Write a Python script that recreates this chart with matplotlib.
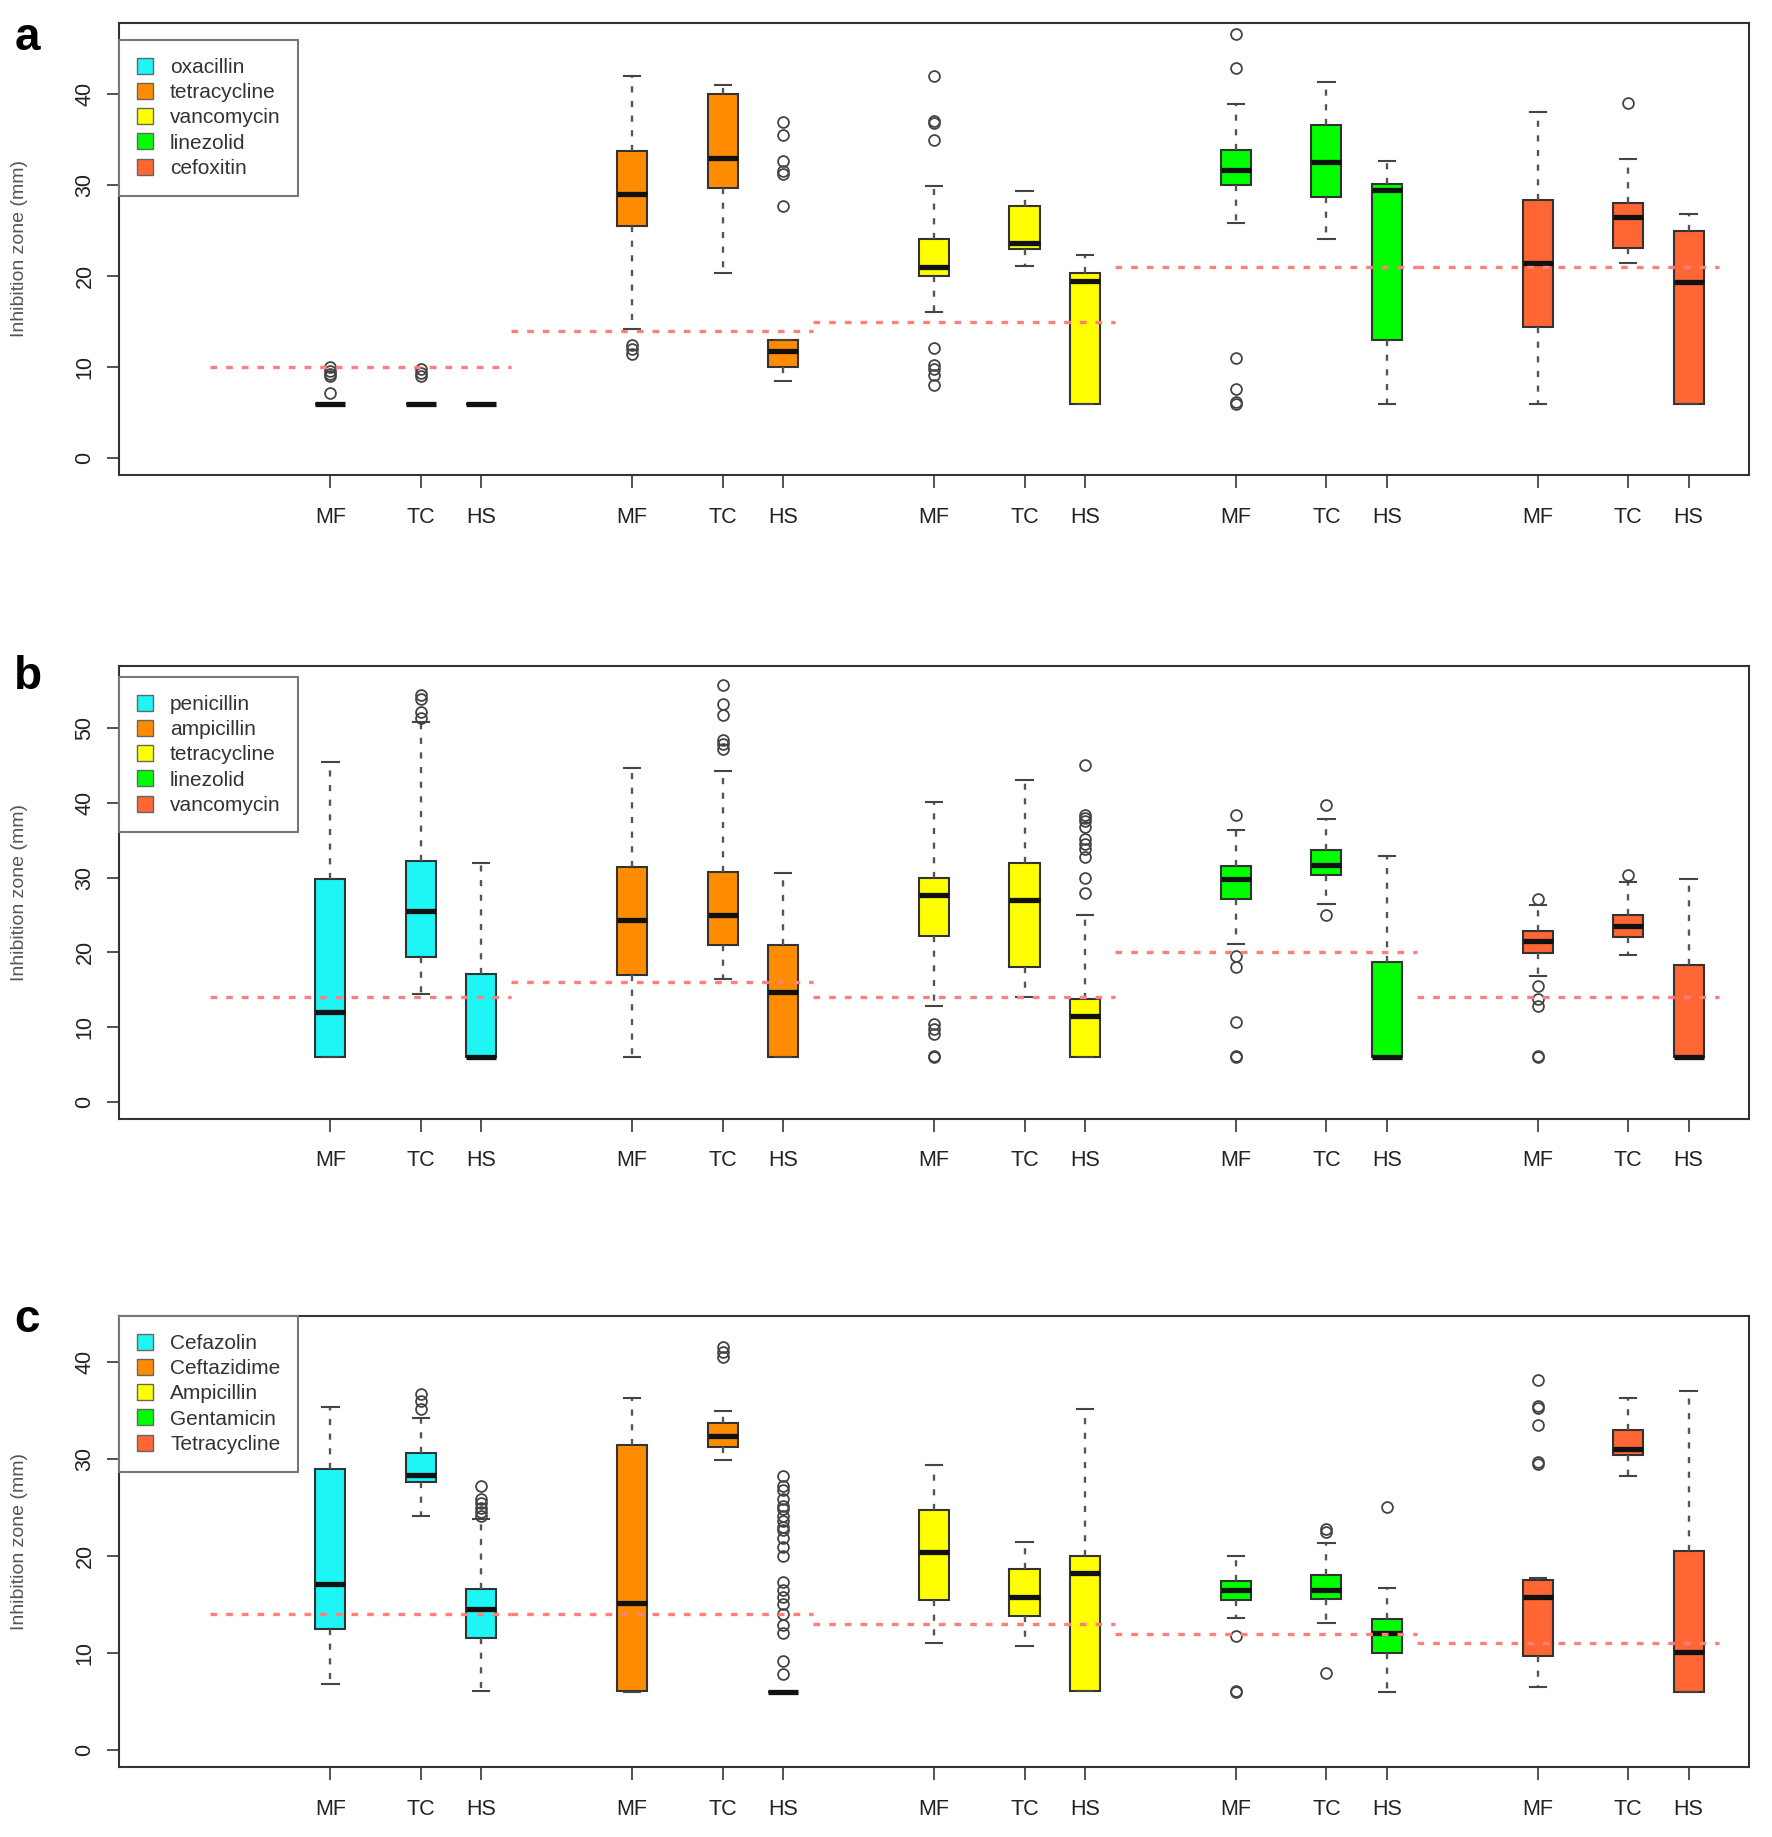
import matplotlib
matplotlib.use("Agg")
import matplotlib.pyplot as plt
from matplotlib.patches import Patch

plt.rcParams['font.family'] = ['Liberation Sans', 'DejaVu Sans']

# ---------------- data ----------------
sites = ["MF", "TC", "HS"]
colors = ["#1EF5F5", "#FF8C00", "#FFFF00", "#00FF00", "#FF6633"]

# Panel a
a_drugs = ["oxacillin", "tetracycline", "vancomycin", "linezolid", "cefoxitin"]
a_breakpoints = [10, 14, 15, 21, 21]
a_q1 = [6, 6, 6, 25.5, 29.7, 10.0, 20.0, 23.0, 6.0, 30.0, 28.7, 13.0, 14.4, 23.1, 6.0]
a_med = [6, 6, 6, 29.0, 33.0, 11.8, 21.0, 23.7, 19.5, 31.7, 32.5, 29.5, 21.4, 26.5, 19.4]
a_q3 = [6, 6, 6, 33.8, 40.0, 13.0, 24.1, 27.7, 20.3, 33.9, 36.6, 30.1, 28.4, 28.0, 25.0]
a_lo = [6, 6, 6, 14.2, 20.4, 8.5, 16.1, 21.1, 6.0, 25.8, 24.1, 6.0, 6.0, 21.5, 6.0]
a_hi = [6, 6, 6, 42.0, 41.0, 13.0, 29.9, 29.4, 22.3, 38.9, 41.3, 32.7, 38.0, 32.9, 26.8]
a_fliers = [[7.2, 9.0, 9.3, 9.6, 10.0], [9.0, 9.4, 9.8], [],
            [11.5, 12.0, 12.5], [], [27.7, 31.2, 31.6, 32.7, 35.5, 36.9],
            [8.0, 9.1, 9.8, 10.2, 12.1, 35.0, 36.8, 37.0, 42.0], [], [],
            [6.0, 6.2, 7.6, 11.0, 42.9, 46.6], [], [],
            [], [39.0], []]

# Panel b
b_drugs = ["penicillin", "ampicillin", "tetracycline", "linezolid", "vancomycin"]
b_breakpoints = [14, 16, 14, 20, 14]
b_q1 = [6, 19.4, 6, 17.0, 21.0, 6, 22.2, 18.1, 6, 27.1, 30.4, 6, 19.9, 22.1, 6]
b_med = [12.0, 25.5, 6, 24.3, 25.0, 14.7, 27.7, 27.0, 11.5, 29.8, 31.7, 6, 21.5, 23.5, 6]
b_q3 = [29.8, 32.2, 17.1, 31.4, 30.8, 21.0, 30.0, 32.0, 13.7, 31.5, 33.7, 18.7, 22.9, 25.0, 18.3]
b_lo = [6, 14.4, 6, 6, 16.4, 6, 12.8, 14.0, 6, 21.1, 26.4, 6, 16.8, 19.7, 6]
b_hi = [45.4, 50.8, 31.9, 44.6, 44.3, 30.6, 40.1, 43.0, 25.0, 36.4, 37.8, 32.9, 26.3, 29.4, 29.8]
b_fliers = [[], [51.4, 52.1, 53.9, 54.4], [],
            [], [47.2, 47.9, 48.4, 51.8, 53.2, 55.8], [],
            [6.0, 6.1, 9.1, 9.8, 10.4], [],
            [28.0, 30.0, 32.7, 33.8, 34.5, 35.2, 36.8, 37.5, 38.0, 38.4, 45.1],
            [6.0, 6.1, 10.7, 18.1, 19.5, 38.4], [25.0, 39.7], [],
            [6.0, 6.1, 12.8, 13.7, 15.5, 27.1], [30.4], []]

# Panel c
c_drugs = ["Cefazolin", "Ceftazidime", "Ampicillin", "Gentamicin", "Tetracycline"]
c_breakpoints = [14, 14, 13, 12, 11]
c_q1 = [12.5, 27.6, 11.6, 6.1, 31.2, 6, 15.5, 13.8, 6.1, 15.5, 15.6, 10.0, 9.7, 30.4, 6.0]
c_med = [17.1, 28.4, 14.5, 15.2, 32.4, 6, 20.4, 15.8, 18.3, 16.5, 16.5, 12.1, 15.8, 31.0, 10.1]
c_q3 = [29.0, 30.6, 16.6, 31.4, 33.7, 6, 24.7, 18.7, 20.0, 17.4, 18.1, 13.5, 17.5, 33.0, 20.5]
c_lo = [6.8, 24.1, 6.1, 6.0, 29.9, 6, 11.0, 10.7, 6.1, 13.6, 13.1, 6.0, 6.5, 28.2, 6.0]
c_hi = [35.4, 34.2, 23.8, 36.3, 34.9, 6, 29.4, 21.5, 35.1, 20.0, 21.3, 16.7, 17.7, 36.3, 37.0]
c_fliers = [[], [35.1, 36.0, 36.7], [24.1, 24.5, 25.0, 25.5, 25.9, 27.2],
            [], [40.5, 41.0, 41.5],
            [7.9, 9.2, 12.1, 12.9, 14.0, 15.1, 15.8, 16.5, 17.3, 20.0, 20.9, 21.9,
             22.7, 23.0, 23.6, 24.1, 24.8, 25.2, 25.9, 26.8, 27.2, 28.2],
            [], [], [],
            [6.0, 6.1, 11.8], [8.0, 22.5, 22.8], [25.1],
            [29.5, 29.7, 33.5, 35.2, 35.5, 38.1], [], []]

panel_ylims = [46, 56, 43]
panel_yticks = [[0, 10, 20, 30, 40], [0, 10, 20, 30, 40, 50], [0, 10, 20, 30, 40]]
panel_letters = ["a", "b", "c"]

# ---------------- figure ----------------
fig = plt.figure(figsize=(17.72, 18.37), dpi=100)

axes_rects = [[0.0672, 0.7414, 0.9198, 0.2462],
              [0.0672, 0.3911, 0.9198, 0.2461],
              [0.0672, 0.0381, 0.9198, 0.2455]]
letter_y = [0.9728, 0.625, 0.2749]
legend_top = [0.962, 0.977, 1.0]

panels = [
    (a_drugs, a_breakpoints, a_q1, a_med, a_q3, a_lo, a_hi, a_fliers),
    (b_drugs, b_breakpoints, b_q1, b_med, b_q3, b_lo, b_hi, b_fliers),
    (c_drugs, c_breakpoints, c_q1, c_med, c_q3, c_lo, c_hi, c_fliers),
]

offsets = [0.0, 1.5, 2.5]
group_step = 5.0

for p, (drugs, bps, q1, med, q3, lo, hi, fl) in enumerate(panels):
    ax = fig.add_axes(axes_rects[p])
    positions = []
    for g in range(5):
        for o in offsets:
            positions.append(g * group_step + o)
    stats = []
    for i in range(15):
        stats.append(dict(med=med[i], q1=q1[i], q3=q3[i], whislo=lo[i],
                          whishi=hi[i], fliers=fl[i]))
    bp = ax.bxp(stats, positions=positions, widths=0.5, capwidths=0.27,
                patch_artist=True, showfliers=True,
                boxprops=dict(edgecolor="#333333", linewidth=1.5),
                medianprops=dict(color="#111111", linewidth=3.8, solid_capstyle="butt"),
                whiskerprops=dict(color="#555555", linewidth=1.7, dashes=(2.6, 3.6)),
                capprops=dict(color="#444444", linewidth=1.5),
                flierprops=dict(marker="o", markerfacecolor="none",
                                markeredgecolor="#444444", markersize=7.8,
                                markeredgewidth=1.3))
    for i, box in enumerate(bp["boxes"]):
        box.set_facecolor(colors[i // 3])
    # breakpoint lines
    for g in range(5):
        ax.hlines(bps[g], g * group_step - 2, g * group_step + 3,
                  colors="#FF7F7F", linewidth=2.4, linestyles=(0, (2.0, 2.7)),
                  zorder=5)
    ax.set_xlim(-3.5, 23.5)
    yl = panel_ylims[p]
    ax.set_ylim(-0.04 * yl, yl * 1.04)
    ax.set_xticks(positions)
    ax.set_xticklabels(sites * 5, fontsize=15.5, color="#222222")
    ax.set_yticks(panel_yticks[p])
    ax.set_yticklabels([str(v) for v in panel_yticks[p]], rotation=90,
                       va="center", fontsize=15.5, color="#222222")
    ax.tick_params(axis="x", length=9, width=1.3, color="#444444", pad=14)
    ax.tick_params(axis="y", length=9, width=1.3, color="#444444", pad=8)
    for s in ax.spines.values():
        s.set_color("#333333")
        s.set_linewidth(1.5)
    ax.set_ylabel("Inhibition zone (mm)", fontsize=14, color="#555555")
    ax.yaxis.set_label_coords(-0.056, 0.5)

    handles = [Patch(facecolor=colors[k], edgecolor="#666666", linewidth=1.0)
               for k in range(5)]
    leg = ax.legend(handles, drugs, loc="upper left",
                    bbox_to_anchor=(0.0, legend_top[p]), fontsize=15,
                    frameon=True, fancybox=False, framealpha=1,
                    edgecolor="#777777", borderaxespad=0, borderpad=0.85,
                    handlelength=0.8, handleheight=0.8, handletextpad=0.8,
                    labelspacing=0.29)
    leg.get_frame().set_linewidth(1.5)
    for t in leg.get_texts():
        t.set_color("#333333")

    fig.text(0.008, letter_y[p], panel_letters[p], fontsize=33,
             fontweight="bold", va="baseline", ha="left")

fig.savefig("out.png", dpi=100)
